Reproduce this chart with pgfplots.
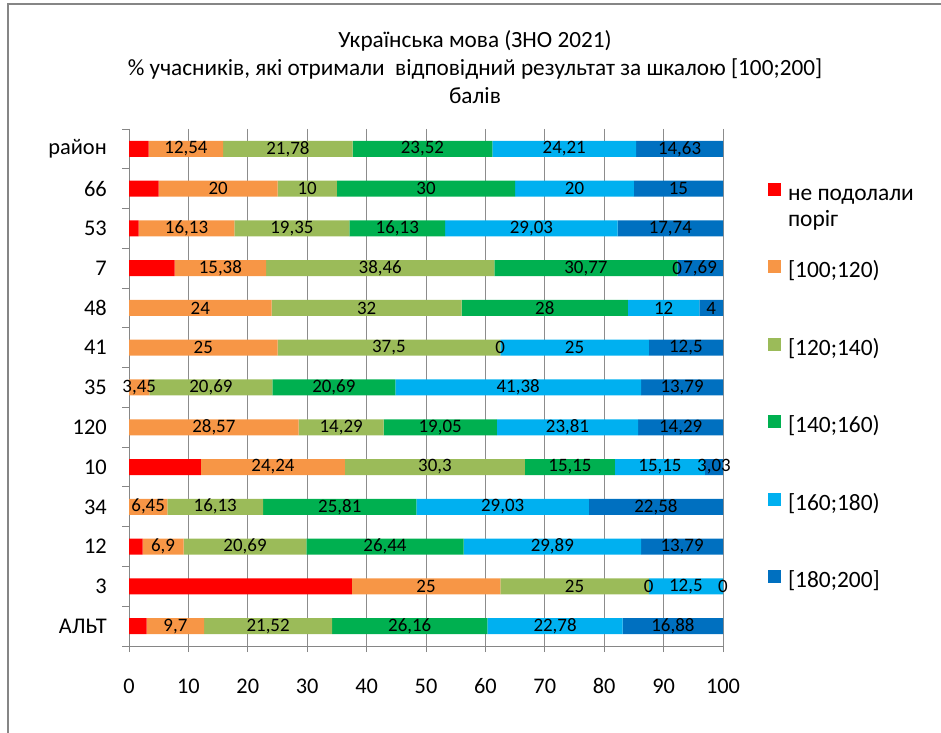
\documentclass[border=0pt]{standalone}
\usepackage{pgfplots}
\usepackage{pgfplotstable}
\pgfplotsset{compat=1.18}
\usepackage{fontspec}
\setmainfont{Carlito}
\definecolor{cRed}{HTML}{FF0000}
\definecolor{cOrange}{HTML}{F79646}
\definecolor{cLGreen}{HTML}{9BBB59}
\definecolor{cGreen}{HTML}{00B050}
\definecolor{cLBlue}{HTML}{00B0F0}
\definecolor{cBlue}{HTML}{0070C0}
\definecolor{cFrame}{HTML}{868686}
\definecolor{cGrid}{HTML}{8C8C8C}
% pos: 0 = район ... 12 = АЛЬТ
\pgfplotstableread{
pos nr a b c d e
0 3.32 12.54 21.78 23.52 24.21 14.63
1 5 20 10 30 20 15
2 1.62 16.13 19.35 16.13 29.03 17.74
3 7.69 15.38 38.46 30.77 0 7.69
4 0 24 32 28 12 4
5 0 25 37.5 0 25 12.5
6 0 3.45 20.69 20.69 41.38 13.79
7 0 28.57 14.29 19.05 23.81 14.29
8 12.12 24.24 30.3 15.15 15.15 3.03
9 0 6.45 16.13 25.81 29.03 22.58
10 2.29 6.9 20.69 26.44 29.89 13.79
11 37.5 25 25 0 12.5 0
12 2.96 9.7 21.52 26.16 22.78 16.88
}\data
\begin{document}
\begin{tikzpicture}[x=1bp,y=1bp]
\useasboundingbox (0,0) rectangle (941,733);
\draw[cFrame, line width=1.6bp] (8,-2) -- (8,729) -- (943,729);
\node[align=center, font=\fontsize{23.3}{28.5}\selectfont] at (475,666)
  {Українська мова (ЗНО 2021)\\\% учасників, які отримали~ відповідний результат за шкалою [100;200]\\балів};
\begin{axis}[
  at={(129bp,87bp)}, anchor=south west, scale only axis,
  width=594bp, height=517bp,
  xmin=0, xmax=100, ymin=-0.5, ymax=12.5, y dir=reverse,
  xbar stacked, bar width=16bp,
  axis x line*=bottom, axis y line*=left,
  axis line style={cFrame, line width=0.9bp},
  xtick={0,10,20,30,40,50,60,70,80,90,100},
  ytick={0,...,12},
  yticklabels={район,66,53,7,48,41,35,120,10,34,12,3,АЛЬТ},
  minor ytick={-0.5,0.5,...,12.5},
  tick align=outside,
  major tick length=6bp, minor tick length=7bp,
  major y tick style={draw=none},
  minor y tick style={cFrame, line width=0.9bp},
  major x tick style={cFrame, line width=0.9bp},
  xmajorgrids,
  grid style={cGrid, line width=0.9bp},
  /pgf/number format/assume math mode=true,
  tick label style={text=black},
  xticklabel style={anchor=north, inner sep=0pt, text height=15bp, text depth=0pt,
    yshift=-26bp, font=\fontsize{22.4}{26}\selectfont},
  yticklabel style={inner sep=0pt, xshift=-16bp, font=\fontsize{22.5}{26}\selectfont},
  legend style={at={(axis description cs:1.0758,0.8965)}, anchor=north west,
    draw=none, fill=none, inner sep=0pt, outer sep=0pt,
    row sep=55bp, column sep=7bp,
    nodes={inner sep=0pt, text height=16bp, text depth=5bp,
      font=\fontsize{23.5}{27}\selectfont}},
  legend cell align=left,
  legend image code/.code={\path[#1, draw=none] (0bp,-1bp) rectangle (13bp,12bp);},
]
\addplot[fill=cRed, draw=none] table[x=nr, y=pos] \data;
\addlegendentry{\vtop{\hbox{не подолали}\hbox{поріг}}}
\addplot[fill=cOrange, draw=none] table[x=a, y=pos] \data;
\addlegendentry{\mbox{[100;120)}}
\addplot[fill=cLGreen, draw=none] table[x=b, y=pos] \data;
\addlegendentry{\mbox{[120;140)}}
\addplot[fill=cGreen, draw=none] table[x=c, y=pos] \data;
\addlegendentry{\mbox{[140;160)}}
\addplot[fill=cLBlue, draw=none] table[x=d, y=pos] \data;
\addlegendentry{\mbox{[160;180)}}
\addplot[fill=cBlue, draw=none] table[x=e, y=pos] \data;
\addlegendentry{\mbox{[180;200]}}
\end{axis}
\begin{axis}[
  at={(129bp,87bp)}, anchor=south west, scale only axis,
  width=594bp, height=517bp,
  xmin=0, xmax=100, ymin=-0.5, ymax=12.5, y dir=reverse,
  hide axis, clip=false,
  point meta=explicit,
  nodes near coords={\pgfmathprintnumber[use comma, assume math mode=true]{\pgfplotspointmeta}},
  every node near coord/.append style={anchor=center, inner sep=0pt, text=black,
    font=\fontsize{19}{20}\selectfont},
]
\addplot[draw=none] table[x expr=\thisrow{nr}+\thisrow{a}/2, y=pos, meta=a] \data;
\addplot[draw=none] table[x expr=\thisrow{nr}+\thisrow{a}+\thisrow{b}/2, y=pos, meta=b] \data;
\addplot[draw=none] table[x expr=\thisrow{nr}+\thisrow{a}+\thisrow{b}+\thisrow{c}/2, y=pos, meta=c] \data;
\addplot[draw=none] table[x expr=\thisrow{nr}+\thisrow{a}+\thisrow{b}+\thisrow{c}+\thisrow{d}/2, y=pos, meta=d] \data;
\addplot[draw=none] table[x expr=\thisrow{nr}+\thisrow{a}+\thisrow{b}+\thisrow{c}+\thisrow{d}+\thisrow{e}/2, y=pos, meta=e] \data;
\end{axis}
\end{tikzpicture}
\end{document}
